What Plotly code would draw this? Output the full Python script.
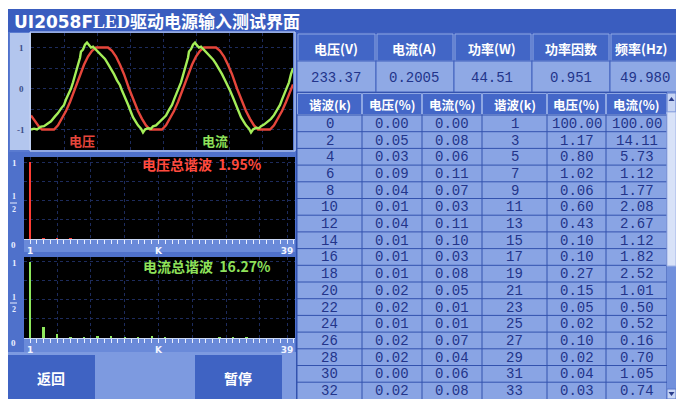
import plotly.graph_objects as go

W, H = 676, 399

# ---------------- data ----------------
# waveform samples: (sample index, normalized amplitude)
volt_wave = [
    (0, -0.66), (4, -0.80), (8, -0.93), (11, -1.0), (23, -1.0), (27, -0.90), (31, -0.74),
    (35, -0.55), (39, -0.33), (44, 0.0), (49, 0.35), (53, 0.58), (57, 0.78), (61, 0.92),
    (65, 1.0), (77, 1.0), (81, 0.92), (85, 0.78), (89, 0.58), (93, 0.35), (98, 0.0),
    (103, -0.33), (107, -0.55), (111, -0.74), (115, -0.90), (119, -1.0), (131, -1.0),
    (135, -0.90), (139, -0.74), (143, -0.55), (147, -0.33), (152, 0.0), (157, 0.35),
    (161, 0.58), (165, 0.78), (169, 0.92), (173, 1.0), (185, 1.0), (189, 0.92), (193, 0.78),
    (197, 0.58), (201, 0.35), (206, 0.0), (211, -0.33), (215, -0.55), (219, -0.74),
    (223, -0.90), (227, -1.0), (239, -1.0), (243, -0.90), (247, -0.74), (251, -0.55),
    (255, -0.33), (260, 0.0), (262, 0.10),
]
curr_wave = [
    (0, -1.0), (3, -0.98), (6, -1.0), (10, -0.93), (13, -0.92), (17, -0.85), (20, -0.80),
    (24, -0.68), (27, -0.60), (30, -0.49), (33, -0.40), (35, -0.27), (38, -0.12), (40, 0.0),
    (42, 0.15), (44, 0.30), (46, 0.45), (47, 0.58), (49, 0.75), (50, 0.90), (52, 0.95),
    (54, 1.07), (56, 1.12), (58, 1.05), (60, 1.0), (62, 1.02), (64, 0.97), (67, 0.90),
    (69, 0.85), (72, 0.77), (74, 0.72), (77, 0.60), (80, 0.49), (83, 0.35), (86, 0.20),
    (89, 0.08), (91, -0.05), (94, -0.20), (97, -0.39), (100, -0.58), (102, -0.70),
    (105, -0.82), (107, -0.90), (110, -0.98), (112, -1.07), (114, -1.0), (117, -0.97),
    (120, -0.98), (122, -0.92), (125, -0.90), (128, -0.83), (132, -0.75), (135, -0.66),
    (138, -0.52), (141, -0.40), (143, -0.27), (146, -0.10), (148, 0.0), (150, 0.15),
    (152, 0.32), (154, 0.48), (155, 0.60), (157, 0.75), (158, 0.90), (160, 0.96),
    (162, 1.07), (164, 1.12), (166, 1.05), (168, 1.0), (170, 1.02), (172, 0.97),
    (175, 0.90), (177, 0.84), (180, 0.77), (182, 0.71), (185, 0.60), (188, 0.48),
    (191, 0.35), (194, 0.20), (197, 0.07), (199, -0.05), (202, -0.22), (205, -0.40),
    (208, -0.58), (210, -0.70), (213, -0.82), (215, -0.90), (218, -0.98), (220, -1.07),
    (222, -1.0), (225, -0.96), (228, -0.97), (230, -0.92), (233, -0.88), (236, -0.82),
    (240, -0.74), (243, -0.65), (246, -0.52), (249, -0.40), (251, -0.27), (254, -0.10),
    (256, 0.0), (258, 0.15), (260, 0.35), (262, 0.50),
]

# harmonic content (%), k = 0..33
harm_k = list(range(34))
harm_volt = [0.00, 100.00, 0.05, 1.17, 0.03, 0.80, 0.09, 1.02, 0.04, 0.06, 0.01, 0.60,
             0.04, 0.43, 0.01, 0.10, 0.01, 0.10, 0.01, 0.27, 0.02, 0.15, 0.02, 0.05,
             0.01, 0.02, 0.02, 0.10, 0.02, 0.02, 0.00, 0.04, 0.02, 0.03]
harm_curr = [0.00, 100.00, 0.08, 14.11, 0.06, 5.73, 0.11, 1.12, 0.07, 1.77, 0.03, 2.08,
             0.11, 2.67, 0.10, 1.12, 0.03, 1.82, 0.08, 2.52, 0.05, 1.01, 0.01, 0.50,
             0.01, 0.52, 0.07, 0.16, 0.04, 0.70, 0.06, 1.05, 0.08, 0.74]

thd_volt = "1.95%"
thd_curr = "16.27%"

param_names = ["电压(V)", "电流(A)", "功率(W)", "功率因数", "频率(Hz)"]
param_values = ["233.37", "0.2005", "44.51", "0.951", "49.980"]

table_head = ["谐波(k)", "电压(%)", "电流(%)", "谐波(k)", "电压(%)", "电流(%)"]

title_latin = "UI2058F"
title_cjk = "LED驱动电源输入测试界面"

# ---------------- helpers ----------------
def X(p):
    return p / W


def Y(p):
    return 1 - p / H


CJK = "Noto Sans CJK SC"
MONO = "Liberation Mono"
SERIF = "Liberation Serif"
RED = "#e6463b"
GREEN = "#a4ee58"
GREEN_TXT = "#8fe25a"
CELL_TXT = "#22348a"

fig = go.Figure()

# waveform traces
fig.add_trace(go.Scatter(x=[p[0] for p in volt_wave], y=[p[1] for p in volt_wave],
                         mode="lines", line=dict(color=RED, width=2.4),
                         xaxis="x", yaxis="y", hoverinfo="skip"))
fig.add_trace(go.Scatter(x=[p[0] for p in curr_wave], y=[p[1] for p in curr_wave],
                         mode="lines", line=dict(color=GREEN, width=2.4),
                         xaxis="x", yaxis="y", hoverinfo="skip"))

# harmonic spectra (fraction of fundamental)
fig.add_trace(go.Bar(x=harm_k[1:], y=[v / 100 for v in harm_volt[1:]], width=0.35,
                     marker=dict(color="#ff3d33", line=dict(width=0)),
                     xaxis="x2", yaxis="y2", hoverinfo="skip"))
fig.add_trace(go.Bar(x=harm_k[1:], y=[v / 100 for v in harm_curr[1:]], width=0.35,
                     marker=dict(color="#8ee85c", line=dict(width=0)),
                     xaxis="x3", yaxis="y3", hoverinfo="skip"))

# ---------------- static panels ----------------
shapes = []
ann = []


def rect(x0, y0, x1, y1, fill, line=None, lw=0, layer="below"):
    shapes.append(dict(type="rect", xref="paper", yref="paper",
                       x0=X(x0), x1=X(x1), y0=Y(y1), y1=Y(y0),
                       fillcolor=fill, line=dict(color=line or fill, width=lw),
                       layer=layer))


def text(x, y, s, size, color, family=CJK, xanchor="center"):
    ann.append(dict(x=X(x), y=Y(y), xref="paper", yref="paper", text=s, showarrow=False,
                    xanchor=xanchor, yanchor="middle",
                    font=dict(size=size, color=color, family=family)))


rect(8, 9, 676, 399, "#4f71cb")            # main panel
rect(8, 9, 676, 32, "#3a5dbf")             # title bar
rect(9, 32, 296, 152, "#5a7bd0")
rect(10, 33, 31, 150, "#b3c6ee")           # waveform scale strip
rect(30, 32, 295, 151, "rgba(0,0,0,0)", "#c9d7f5", 1)
rect(24, 239, 295, 252, "#6a8ad9")         # spectrum axis strips
rect(24, 338, 295, 352, "#6a8ad9")
rect(8, 352, 296, 399, "#7d9ae0")          # button area
rect(8, 355, 95, 399, "#3f63c3")
rect(195, 355, 282, 399, "#3f63c3")
rect(296, 32, 676, 93, "#3f60c0")          # parameter table block

# screen areas behind the plots
rect(31, 33, 293, 150, "black")
rect(24, 157, 295, 239, "black")
rect(24, 257, 295, 338, "black")

# parameter table
bounds = [297, 376, 454, 532, 610, 690]
for i in range(5):
    rect(bounds[i] + 1, 34, bounds[i + 1] - 1, 61, "#4266c6", "#8ea7e3", 1)
    rect(bounds[i], 61, bounds[i + 1], 92, "#8fa9e5", "#4060bd", 1)

centers = [336, 414, 492, 571]
for i in range(4):
    text(centers[i], 48, "<b>" + param_names[i] + "</b>", 13, "white")
    text(centers[i], 78, param_values[i], 14, CELL_TXT, family=MONO)
text(613, 48, "<b>" + param_names[4] + "</b>", 13, "white", xanchor="left")
text(645, 78, param_values[4], 14, CELL_TXT, family=MONO)

# harmonic table (two k / voltage / current column groups)
even = [k for k in harm_k if k % 2 == 0]
odd = [k for k in harm_k if k % 2 == 1]
cols = [
    [str(k) for k in even],
    ["%.2f" % harm_volt[k] for k in even],
    ["%.2f" % harm_curr[k] for k in even],
    [str(k) for k in odd],
    ["%.2f" % harm_volt[k] for k in odd],
    ["%.2f" % harm_curr[k] for k in odd],
]
tb = [297, 362, 422, 482, 547, 606, 667]
head_top, head_bot, row_h = 93, 115, 16.7
rect(296, 92, 667, 399, "#3352ae")
for c in range(6):
    rect(tb[c] + 0.5, head_top + 0.5, tb[c + 1] - 0.5, head_bot - 0.5, "#4467c8",
         "#8ea7e3", 1)
    text((tb[c] + tb[c + 1]) / 2, (head_top + head_bot) / 2 + 1,
         "<b>" + table_head[c] + "</b>", 12.5, "white")
rect(tb[0], head_bot, tb[6], 399, "#89a4e4")
for r in range(len(even)):
    y0 = head_bot + r * row_h
    shapes.append(dict(type="line", xref="paper", yref="paper", x0=X(tb[0]), x1=X(tb[6]),
                       y0=Y(y0), y1=Y(y0), line=dict(color="#3352ae", width=1),
                       layer="below"))
    for c in range(6):
        text((tb[c] + tb[c + 1]) / 2, y0 + row_h / 2 + 0.5, cols[c][r], 14, CELL_TXT,
             family=MONO)
for c in range(7):
    shapes.append(dict(type="line", xref="paper", yref="paper", x0=X(tb[c]), x1=X(tb[c]),
                       y0=Y(head_bot), y1=Y(399), line=dict(color="#3352ae", width=1),
                       layer="below"))

# scrollbar
rect(667, 92, 676, 399, "#7190dc")
rect(667, 93, 676, 112, "#c6d4f4", "#5a78cc", 1)
rect(667, 112, 676, 266, "#d8e2f8", "#9fb3e6", 1)
rect(667, 389, 676, 399, "#c6d4f4", "#5a78cc", 1)
shapes.append(dict(type="path", xref="paper", yref="paper",
                   path="M %f %f L %f %f L %f %f Z" % (X(668.5), Y(101), X(674.5), Y(101),
                                                       X(671.5), Y(97)),
                   fillcolor="#2a3d8c", line=dict(width=0), layer="below"))
shapes.append(dict(type="path", xref="paper", yref="paper",
                   path="M %f %f L %f %f L %f %f Z" % (X(668.5), Y(392), X(674.5), Y(392),
                                                       X(671.5), Y(396)),
                   fillcolor="#2a3d8c", line=dict(width=0), layer="below"))

# fraction bars of the "1/2" scale labels
for yy in (203, 303):
    shapes.append(dict(type="line", xref="paper", yref="paper",
                       x0=X(10), x1=X(17), y0=Y(yy), y1=Y(yy),
                       line=dict(color="#e8eeff", width=1)))

# ---------------- text ----------------
text(12, 20, '<b><span style="font-family:DejaVu Sans;font-size:17px">' + title_latin +
     '</span><span style="font-family:Liberation Serif;font-size:18px">LED</span>' +
     title_cjk[3:] + "</b>", 17, "white", xanchor="left")

for lbl, yy in (("1", 48), ("0", 89), ("-1", 130)):
    text(21, yy, "<b>" + lbl + "</b>", 9, "#3d4d88", family=SERIF)

text(82, 141, "<b>电压</b>", 13, RED)
text(215, 141, "<b>电流</b>", 13, GREEN_TXT)

text(202, 164, "<b>电压总谐波  " + thd_volt + "</b>", 14, "#ff4a3d")
text(207, 266, "<b>电流总谐波  " + thd_curr + "</b>", 14, GREEN_TXT)

for top, zero in ((163, 245), (263, 343)):
    text(14, top, "<b>1</b>", 9, "#e8eeff", family=SERIF)
    text(13.5, top + 34, "<b>1</b>", 8, "#e8eeff", family=SERIF)
    text(13.5, top + 46, "<b>2</b>", 8, "#e8eeff", family=SERIF)
    text(13, zero, "<b>0</b>", 9, "#e8eeff", family=SERIF)

text(51, 378, "<b>返回</b>", 14, "white")
text(238, 378, "<b>暂停</b>", 14, "white")

# ---------------- axes ----------------
grid = "#1d2b5c"
spec_x = dict(range=[0.11, 40.18], tickmode="array",
              tickvals=[1, 5, 10, 15, 20, 25, 30, 35, 39],
              ticktext=["<b>1</b>", "", "", "", "<b>K</b>", "", "", "", "<b>39</b>"],
              ticks="outside", ticklen=3, tickcolor="#e8eeff", tickwidth=1,
              tickfont=dict(size=9, color="#f2f5ff", family="DejaVu Sans"),
              showgrid=True, gridcolor=grid, griddash="dot", gridwidth=1,
              minor=dict(dtick=1, tick0=0, ticks="outside", ticklen=4,
                         tickcolor="#e8eeff", showgrid=False),
              showline=True, linecolor="#c9d7f5", linewidth=1,
              zeroline=False, fixedrange=True)
spec_y = dict(range=[0, 1.065], showticklabels=False, ticks="",
              showgrid=True, gridcolor=grid, griddash="dot", dtick=0.25,
              zeroline=False, fixedrange=True)

fig.update_layout(
    width=W, height=H, margin=dict(l=0, r=0, t=0, b=0),
    paper_bgcolor="white", plot_bgcolor="black", showlegend=False,
    bargap=0,
    shapes=shapes, annotations=ann,
    xaxis=dict(domain=[X(31), X(293)], range=[0, 262], showticklabels=False, ticks="",
               showgrid=True, gridcolor=grid, griddash="dot", dtick=33, tick0=0,
               zeroline=False, anchor="y", fixedrange=True),
    yaxis=dict(domain=[Y(150), Y(33)], range=[-1.5, 1.354], showticklabels=False,
               ticks="", showgrid=True, gridcolor=grid, griddash="dot", dtick=0.5,
               zeroline=False, anchor="x", fixedrange=True),
    xaxis2=dict(domain=[X(24), X(295)], anchor="y2", **spec_x),
    yaxis2=dict(domain=[Y(239), Y(157)], anchor="x2", **spec_y),
    xaxis3=dict(domain=[X(24), X(295)], anchor="y3", **spec_x),
    yaxis3=dict(domain=[Y(338), Y(257)], anchor="x3", **spec_y),
)

fig.write_html("out.html", config={"displayModeBar": False, "staticPlot": True})
